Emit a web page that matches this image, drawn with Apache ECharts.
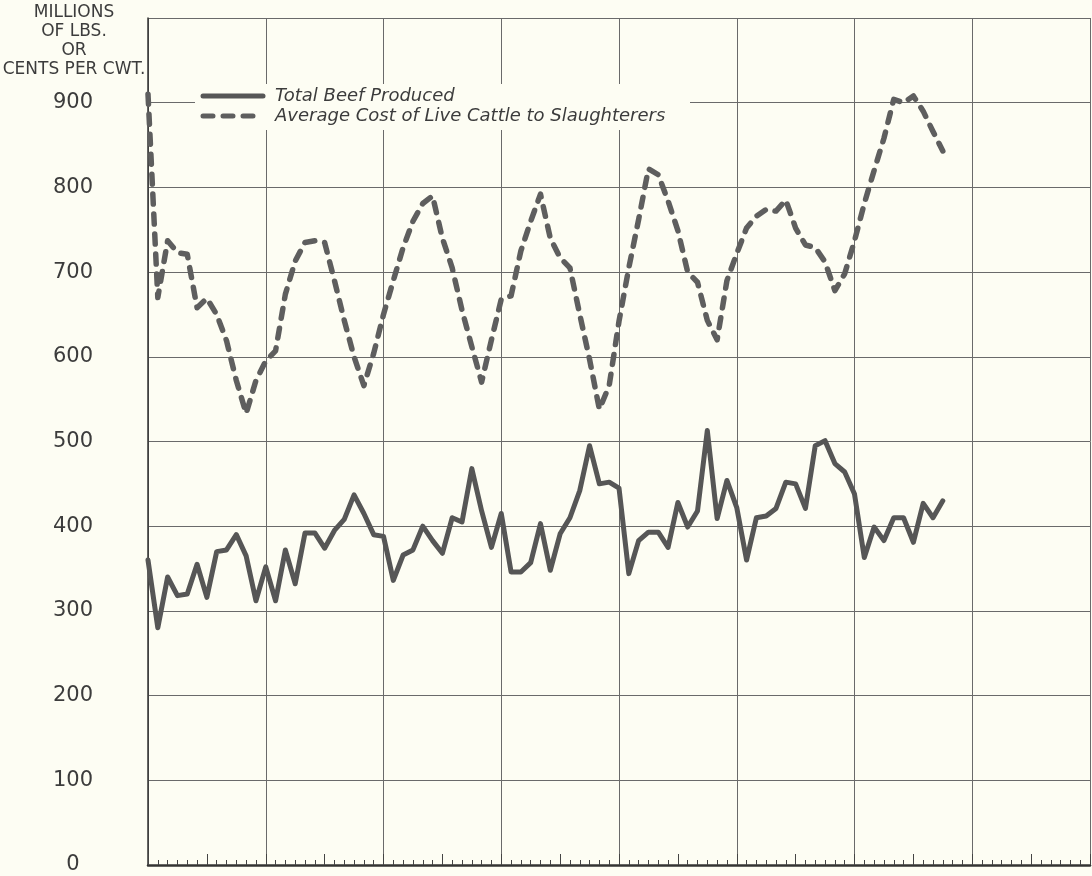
<!DOCTYPE html>
<html>
<head>
<meta charset="utf-8">
<title>Beef produced and cattle cost</title>
<script src="https://cdn.jsdelivr.net/npm/echarts@6/dist/echarts.min.js"></script>
<style>
  html, body { margin: 0; padding: 0; background: #fdfdf3; }
  #chart { width: 1092px; height: 876px; }
</style>
</head>
<body>
<div id="chart"></div>
<script>
// monthly values (month 0 = left edge)
const beefProduced = [
  360, 280, 340, 318, 320, 355, 316, 370, 372, 390, 365, 312,
  352, 312, 372, 332, 392, 392, 374, 395, 408, 437, 415, 390,
  388, 336, 366, 372, 400, 383, 368, 410, 405, 468, 418, 375,
  415, 346, 346, 357, 403, 348, 391, 410, 442, 495, 450, 452,
  445, 344, 383, 393, 393, 375, 428, 399, 418, 513, 409, 454,
  422, 360, 410, 412, 421, 452, 450, 421, 495, 501, 474, 464,
  438, 363, 399, 383, 410, 410, 381, 427, 410, 430
]
const cattleCost = [
  910, 670, 737, 723, 721, 658, 669, 650, 619, 572, 533, 572,
  595, 607, 674, 713, 735, 737, 735, 690, 643, 600, 566, 604,
  650, 690, 729, 760, 781, 790, 740, 705, 655, 612, 570, 620,
  668, 672, 725, 760, 792, 740, 717, 705, 650, 597, 538, 566,
  642, 705, 762, 822, 815, 784, 749, 700, 688, 643, 620, 690,
  722, 752, 766, 774, 772, 785, 752, 732, 729, 712, 678, 698,
  737, 781, 820, 858, 904, 900, 908, 890, 866, 843
]
const yTicks = [0, 100, 200, 300, 400, 500, 600, 700, 800, 900]
const seriesNames = ['Total Beef Produced', 'Average Cost of Live Cattle to Slaughterers']

const bg = '#fdfdf3'
const ink = '#3c3c3c'
const lineInk = '#565656'
const dashInk = '#5e5e5e'
const dashPattern = [10, 10]

// legend drawn by hand, the library legend puts a marker on the line
function legendGraphic () {
  let left = 203
  let top = 96
  let items = [{
    type: 'rect',
    shape: { x: 195, y: 84, width: 495, height: 46 },
    style: { fill: bg },
    z: 10
  }]
  seriesNames.forEach((name, i) => {
    let y = top + i * 20
    items.push({
      type: 'line',
      shape: { x1: left, y1: y, x2: left + 60, y2: y },
      style: {
        stroke: i === 0 ? lineInk : dashInk,
        lineWidth: 5,
        lineCap: 'round',
        lineDash: i === 0 ? null : dashPattern
      },
      z: 11
    })
    items.push({
      type: 'text',
      x: 275,
      y: y,
      style: {
        text: name,
        font: 'italic 18px "DejaVu Sans"',
        fill: ink,
        verticalAlign: 'middle'
      },
      z: 11
    })
  })
  return items
}

let chart = echarts.init(document.getElementById('chart'))
let options = {
  backgroundColor: bg,
  animation: false,
  grid: {
    left: 148,
    right: 2,
    top: 18,
    bottom: 11
  },
  graphic: [{
    type: 'text',
    x: 74,
    y: 3,
    style: {
      text: 'MILLIONS\nOF LBS.\nOR\nCENTS PER CWT.',
      align: 'center',
      verticalAlign: 'top',
      font: '17px "DejaVu Sans"',
      lineHeight: 19,
      fill: ink
    }
  }].concat(legendGraphic()),
  xAxis: [{
    type: 'value',
    min: 0,
    max: 96,
    interval: 12,
    axisLine: { lineStyle: { color: '#333', width: 2.5 } },
    axisTick: { show: true, inside: true, length: 10, lineStyle: { color: '#444' } },
    minorTick: { show: true, splitNumber: 12, length: 5, lineStyle: { color: '#444', width: 1 } },
    axisLabel: { show: false },
    splitLine: { show: true, lineStyle: { color: '#6a6a6a', width: 1 } }
  }, {
    type: 'value',
    position: 'bottom',
    min: 0,
    max: 96,
    interval: 6,
    axisLine: { show: false },
    axisTick: { show: true, inside: true, length: 11, lineStyle: { color: '#444' } },
    axisLabel: { show: false },
    splitLine: { show: false }
  }],
  yAxis: {
    type: 'value',
    min: 0,
    max: 1000,
    interval: 100,
    axisLine: { show: true, lineStyle: { color: '#333', width: 1.5 } },
    axisTick: { show: false },
    axisLabel: {
      margin: 75,
      align: 'center',
      fontFamily: 'DejaVu Sans',
      fontSize: 21,
      color: ink,
      padding: [8, 0, 0, 0],
      formatter: v => (yTicks.indexOf(v) >= 0 ? String(v) : '')
    },
    splitLine: { show: true, lineStyle: { color: '#6a6a6a', width: 1 } }
  },
  series: [{
    name: seriesNames[0],
    type: 'line',
    xAxisIndex: 0,
    symbol: 'none',
    data: beefProduced.map((v, i) => [i, v]),
    lineStyle: { color: lineInk, width: 5, join: 'round', cap: 'round' },
    z: 3
  }, {
    name: seriesNames[1],
    type: 'line',
    xAxisIndex: 0,
    symbol: 'none',
    data: cattleCost.map((v, i) => [i, v]),
    lineStyle: { color: dashInk, width: 5.5, type: dashPattern, cap: 'round', join: 'round' },
    z: 3
  }]
}
chart.setOption(options)
</script>
</body>
</html>
